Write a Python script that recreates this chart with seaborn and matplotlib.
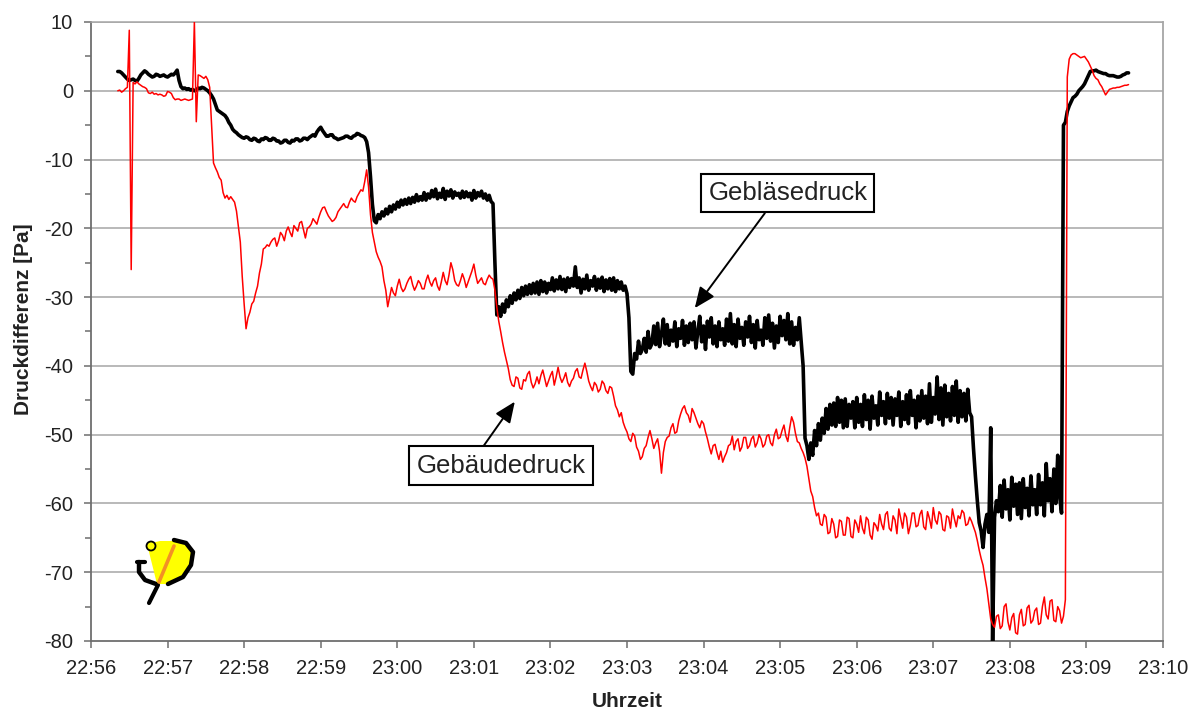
import numpy as np
import pandas as pd
import matplotlib
matplotlib.use("Agg")
import matplotlib.pyplot as plt
import seaborn as sns
from matplotlib.patches import Polygon, Circle
from matplotlib.ticker import MultipleLocator

# ---------------- data ----------------
# time in minutes after 22:56, sampled every 0.025 min starting at 0.35
t_start = 0.35
t_step = 0.025

tick_labels = ["22:56", "22:57", "22:58", "22:59", "23:00", "23:01", "23:02",
               "23:03", "23:04", "23:05", "23:06", "23:07", "23:08", "23:09", "23:10"]

# Gebläsedruck [Pa] (one row = half a minute)
geblaese = [
    2.8, 2.8, 2.6, 2.3, 2.0, 1.7, 1.5, 1.6, 1.7, 1.5, 1.4, 1.8, 2.3, 2.6, 2.9, 2.7, 2.4, 2.2, 2.0, 2.1,
    2.4, 2.3, 2.1, 2.2, 2.3, 2.1, 2.0, 2.2, 2.4, 2.3, 2.6, 3.0, 1.5, 0.6, 0.3, 0.4, 0.2, 0.3, 0.1, 0.2,
    0.0, 0.1, 0.4, 0.3, 0.5, 0.4, 0.2, 0.0, -0.3, -0.7, -1.2, -2.0, -2.8, -3.0, -3.2, -3.4, -3.6, -4.0, -4.6, -5.0,
    -5.6, -5.9, -6.1, -6.4, -6.6, -6.8, -6.9, -6.7, -6.8, -7.1, -7.2, -6.9, -7.0, -7.3, -7.4, -7.0, -7.1, -6.8, -6.9, -7.2,
    -7.2, -6.9, -7.0, -7.3, -7.3, -7.6, -7.5, -7.2, -7.2, -7.5, -7.6, -7.2, -7.3, -7.0, -7.0, -7.3, -7.2, -6.9, -6.9, -7.1,
    -6.8, -6.6, -6.4, -6.6, -6.0, -5.6, -5.3, -5.8, -6.2, -6.6, -6.6, -6.4, -6.4, -6.8, -6.9, -7.1, -7.0, -6.9, -6.8, -6.6,
    -6.6, -6.8, -6.9, -6.6, -6.5, -6.2, -6.3, -6.5, -6.6, -6.8, -7.4, -9.0, -12.5, -16.5, -18.9, -19.2, -18.0, -18.6, -17.6, -18.2,
    -17.2, -17.9, -16.8, -17.6, -16.6, -17.2, -16.2, -16.9, -15.9, -16.6, -15.8, -16.5, -15.6, -16.4, -15.5, -16.2, -15.1, -16.0, -15.4, -15.9,
    -14.8, -15.9, -15.0, -15.6, -14.5, -15.4, -14.3, -15.7, -14.9, -15.5, -14.2, -15.8, -14.6, -15.3, -14.4, -15.6, -14.7, -15.2, -14.9, -15.6,
    -14.6, -15.5, -14.7, -15.4, -14.9, -15.9, -14.5, -15.6, -14.8, -15.3, -14.6, -15.6, -15.0, -15.9, -15.2, -16.1, -16.4, -25.0, -32.6, -31.4,
    -32.8, -31.0, -32.2, -30.4, -31.4, -29.8, -30.9, -29.4, -30.4, -29.0, -30.2, -28.6, -29.8, -28.4, -29.6, -28.2, -29.5, -28.0, -29.4, -27.8,
    -29.6, -27.6, -29.2, -27.8, -29.4, -28.0, -28.9, -27.2, -29.1, -27.5, -28.8, -27.0, -28.9, -27.4, -29.2, -27.2, -28.6, -27.3, -28.4, -25.6,
    -28.6, -27.2, -29.4, -27.4, -28.8, -26.8, -29.0, -27.6, -28.4, -27.0, -29.0, -27.4, -28.7, -27.1, -29.2, -27.5, -28.8, -27.3, -29.0, -27.2,
    -29.2, -27.6, -28.8, -27.8, -29.0, -28.4, -29.5, -33.0, -40.8, -41.2, -38.2, -39.0, -36.4, -38.2, -37.6, -36.0, -38.0, -35.0, -37.4, -36.8,
    -34.2, -36.9, -33.8, -37.2, -35.4, -33.2, -36.8, -34.0, -37.0, -34.8, -36.4, -33.6, -37.2, -34.6, -36.0, -33.4, -37.0, -34.2, -36.6, -33.8,
    -36.2, -33.6, -37.4, -35.0, -32.8, -36.5, -34.2, -37.6, -33.5, -35.8, -33.0, -36.8, -34.2, -37.2, -33.6, -36.2, -34.6, -37.0, -33.2, -36.4,
    -32.4, -36.8, -34.0, -37.2, -33.2, -36.0, -34.4, -37.0, -33.6, -35.8, -32.8, -36.6, -34.0, -37.4, -33.4, -36.2, -34.8, -37.0, -33.0, -36.0,
    -32.6, -36.4, -33.8, -37.4, -34.2, -36.6, -32.8, -35.6, -33.4, -36.2, -32.4, -36.8, -33.6, -37.0, -34.4, -36.2, -33.0, -36.6, -40.0, -50.5,
    -51.6, -53.6, -51.2, -53.0, -49.4, -51.6, -48.4, -50.8, -47.6, -49.8, -46.2, -49.2, -45.6, -48.6, -45.4, -48.8, -44.6, -48.2, -45.0, -49.0,
    -44.8, -48.8, -45.6, -47.6, -45.2, -49.0, -44.6, -48.2, -45.6, -48.8, -44.2, -47.8, -45.0, -49.2, -44.4, -47.6, -45.8, -48.6, -43.8, -47.2,
    -45.2, -48.4, -44.0, -47.6, -44.6, -48.6, -44.8, -47.2, -43.8, -48.8, -45.2, -47.8, -44.2, -48.4, -43.6, -47.2, -45.0, -49.0, -44.4, -48.0,
    -43.6, -47.6, -44.4, -48.4, -42.6, -48.2, -44.6, -47.0, -41.6, -47.8, -43.2, -48.6, -42.8, -47.4, -44.0, -48.0, -43.0, -47.2, -42.2, -48.2,
    -43.6, -47.4, -44.0, -48.0, -43.4, -46.8, -47.4, -52.0, -56.0, -59.6, -62.8, -64.0, -66.4, -63.0, -61.6, -64.2, -49.0, -80.0, -62.0, -59.6,
    -61.2, -57.4, -62.0, -56.6, -60.8, -58.0, -62.4, -56.2, -60.4, -57.2, -61.6, -57.0, -62.2, -56.4, -60.6, -57.8, -61.8, -56.0, -60.2, -58.0,
    -61.6, -55.8, -60.2, -57.0, -61.8, -54.2, -59.6, -56.4, -61.2, -55.0, -60.0, -53.0, -59.0, -61.4, -5.0, -4.6, -3.0, -2.2, -1.6, -1.0,
    -0.8, -0.5, 0.0, 0.3, 0.6, 1.0, 1.6, 2.2, 2.8, 2.9, 2.9, 3.0, 2.8, 2.7, 2.6, 2.5, 2.5, 2.3, 2.2, 2.2,
    2.2, 2.1, 2.0, 2.0, 2.1, 2.3, 2.4, 2.6, 2.6,
]

# Gebäudedruck [Pa]
gebaeude = [
    0.0, 0.1, -0.2, 0.0, 0.3, 0.5, 8.8, -26.0, 1.2, 1.0, 1.3, 1.0, 0.8, 0.6, 0.5, 0.3, -0.3, -0.4, -0.2, -0.5,
    -0.4, -0.6, -0.5, -0.6, -0.8, -0.7, -0.1, -0.2, -0.4, -1.0, -1.3, -1.2, -1.2, -1.4, -1.3, -1.2, -1.3, -1.4, -1.3, -1.2,
    10.0, -4.5, 2.3, 2.2, 2.0, 1.8, 2.1, 1.6, 0.5, -5.0, -10.5, -11.2, -11.8, -12.6, -13.0, -14.8, -15.6, -15.2, -15.8, -15.4,
    -15.8, -16.2, -17.5, -19.8, -22.0, -27.0, -31.0, -34.6, -33.0, -32.2, -31.0, -30.6, -29.4, -28.4, -26.5, -25.2, -23.0, -22.8, -22.4, -22.6,
    -22.0, -21.6, -21.4, -22.6, -21.8, -20.6, -21.0, -21.8, -20.4, -19.8, -20.6, -21.2, -19.6, -20.0, -20.4, -19.2, -19.0, -20.2, -21.4, -20.0,
    -19.8, -19.4, -18.6, -19.0, -19.4, -18.4, -17.6, -17.0, -16.9, -17.6, -18.2, -18.6, -19.0, -18.8, -18.4, -17.6, -17.2, -16.8, -16.4, -16.9,
    -17.0, -16.2, -15.6, -16.0, -16.2, -15.4, -14.9, -14.4, -14.6, -13.2, -11.5, -14.0, -18.0, -20.6, -22.0, -23.4, -24.2, -24.8, -25.6, -27.6,
    -29.0, -31.4, -30.0, -28.6, -29.4, -29.8, -28.4, -27.4, -28.6, -29.2, -28.8, -28.0, -27.4, -27.0, -28.2, -29.0, -28.4, -27.6, -28.0, -28.8,
    -28.8, -27.6, -26.8, -27.8, -28.4, -27.6, -27.2, -28.4, -29.0, -27.8, -26.4, -27.6, -28.2, -26.8, -25.0, -26.0, -27.6, -28.2, -28.4, -27.6,
    -26.6, -27.4, -28.6, -27.8, -27.0, -26.2, -25.2, -26.8, -28.0, -27.6, -27.2, -28.0, -28.2, -27.4, -26.8, -27.2, -27.4, -29.0, -31.5, -33.5,
    -35.0, -36.6, -38.0, -39.2, -40.4, -42.0, -42.8, -43.0, -41.6, -41.8, -43.2, -43.4, -42.0, -42.2, -41.2, -40.8, -42.4, -43.2, -42.6, -41.6,
    -42.6, -41.4, -40.6, -41.8, -43.0, -42.2, -41.4, -40.8, -42.8, -41.6, -40.2, -41.6, -42.4, -41.8, -41.0, -42.4, -43.0, -42.2, -41.8, -40.8,
    -40.4, -41.6, -41.8, -40.6, -39.6, -40.8, -42.2, -43.0, -43.6, -42.4, -42.8, -43.8, -43.4, -42.2, -42.6, -43.6, -44.0, -43.0, -43.2, -44.4,
    -45.8, -46.4, -47.4, -46.8, -48.2, -49.0, -49.6, -50.6, -51.0, -49.8, -50.2, -51.8, -52.4, -53.6, -53.2, -52.0, -51.6, -50.4, -49.4, -50.6,
    -52.0, -51.2, -50.6, -52.4, -55.6, -52.6, -51.0, -50.4, -50.2, -49.0, -48.4, -49.8, -49.6, -48.0, -47.0, -46.2, -45.8, -46.8, -47.2, -48.2,
    -46.2, -46.8, -47.6, -48.4, -49.0, -48.0, -48.4, -49.6, -50.6, -51.8, -52.8, -51.6, -51.4, -52.6, -53.6, -52.4, -54.0, -53.2, -52.6, -51.6,
    -51.4, -50.2, -52.2, -51.0, -50.6, -52.4, -51.8, -50.4, -50.4, -52.0, -51.6, -50.6, -50.2, -51.8, -51.2, -50.0, -50.6, -51.8, -51.4, -50.2,
    -50.0, -51.2, -51.6, -50.0, -49.2, -50.6, -50.4, -49.4, -48.6, -50.2, -51.0, -49.0, -47.4, -48.2, -49.8, -51.0, -51.2, -52.0, -52.6, -53.4,
    -54.6, -56.4, -58.2, -59.0, -60.6, -61.8, -61.4, -63.0, -63.2, -61.6, -62.0, -64.4, -64.2, -62.2, -63.0, -65.0, -64.8, -62.4, -62.6, -64.6,
    -64.6, -62.0, -62.2, -64.8, -65.0, -62.4, -63.0, -64.2, -61.8, -63.6, -64.4, -62.0, -62.4, -64.6, -65.2, -62.8, -63.2, -64.0, -61.6, -63.0,
    -63.8, -61.6, -61.2, -63.6, -64.0, -61.8, -62.4, -64.4, -60.8, -62.2, -63.6, -61.4, -62.0, -64.4, -63.2, -61.4, -61.4, -63.4, -63.2, -61.6,
    -61.0, -63.4, -63.8, -61.2, -62.2, -63.6, -60.6, -62.4, -63.0, -61.2, -61.6, -63.8, -64.0, -61.8, -62.0, -63.6, -60.8, -62.2, -63.4, -61.8,
    -62.2, -61.0, -61.4, -63.2, -63.0, -62.0, -62.6, -63.4, -64.2, -65.4, -66.8, -68.0, -69.0, -70.8, -72.4, -74.6, -76.8, -77.6, -78.0, -76.4,
    -76.2, -78.2, -77.8, -75.0, -74.6, -77.2, -78.4, -76.6, -76.0, -78.8, -79.0, -76.2, -75.4, -77.8, -77.6, -75.2, -74.8, -77.4, -77.0, -75.6,
    -75.2, -77.6, -77.4, -75.0, -73.6, -76.2, -76.8, -74.2, -74.0, -77.0, -77.2, -75.0, -75.6, -77.4, -76.4, -74.0, 2.0, 4.6, 5.2, 5.4,
    5.4, 5.2, 5.0, 4.8, 4.9, 5.0, 4.6, 4.2, 3.6, 3.0, 2.2, 1.8, 1.6, 1.0, 0.6, 0.0, -0.6, -0.2, 0.2, 0.3,
    0.4, 0.4, 0.5, 0.5, 0.6, 0.7, 0.8, 0.8, 0.9,
]

df_b = pd.DataFrame({"t": t_start + t_step * np.arange(len(geblaese)), "p": geblaese})
df_r = pd.DataFrame({"t": t_start + t_step * np.arange(len(gebaeude)), "p": gebaeude})

# ---------------- style ----------------
sns.set_theme(style="white")
plt.rcParams["font.family"] = ["Liberation Sans", "DejaVu Sans"]
plt.rcParams["axes.unicode_minus"] = False

W, H = 1197, 713
fig = plt.figure(figsize=(W / 100, H / 100), dpi=100)
ax = fig.add_axes([91 / W, 1 - 641 / H, (1163 - 91) / W, (641 - 22) / H])

grid_c = "#a6a6a6"
for v in range(-70, 11, 10):
    ax.axhline(v, color=grid_c, lw=1.1, zorder=0)

sns.lineplot(data=df_b, x="t", y="p", ax=ax, color="black", lw=2.6,
             estimator=None, sort=False, zorder=3)
sns.lineplot(data=df_r, x="t", y="p", ax=ax, color="#ff0000", lw=1.1,
             estimator=None, sort=False, zorder=4)

ax.set_xlim(0, 14)
ax.set_ylim(-80, 10)
ax.set_xticks(range(len(tick_labels)))
ax.set_xticklabels(tick_labels)
ax.yaxis.set_major_locator(MultipleLocator(10))
ax.yaxis.set_minor_locator(MultipleLocator(5))

spine_c = "#6e6e6e"
ax.spines["left"].set_color(spine_c)
ax.spines["bottom"].set_color(spine_c)
ax.spines["left"].set_linewidth(1.3)
ax.spines["bottom"].set_linewidth(1.3)
ax.spines["right"].set_color(grid_c)
ax.spines["top"].set_color(grid_c)
ax.spines["right"].set_linewidth(1.3)
ax.spines["top"].set_linewidth(1.1)

ax.tick_params(axis="both", which="major", direction="out", length=5, width=1.1,
               color=spine_c, labelsize=14.5, labelcolor="#222222")
ax.tick_params(axis="y", which="major", pad=8, left=True)
ax.tick_params(axis="y", which="minor", direction="out", length=4, width=1.1,
               color=spine_c, left=True)
ax.tick_params(axis="x", which="major", pad=8, bottom=True)

ax.set_xlabel("Uhrzeit", fontsize=15, fontweight="bold", color="#222222", labelpad=10)
ax.set_ylabel("Druckdifferenz [Pa]", fontsize=15, fontweight="bold", color="#222222")
ax.yaxis.set_label_coords(-0.054, 0.52)

# ---------------- annotations ----------------
box = dict(boxstyle="square,pad=0.28", fc="white", ec="black", lw=1.5)
arrow = dict(arrowstyle="-|>,head_length=0.7,head_width=0.3", color="black", lw=1.4,
             shrinkA=0, shrinkB=0, mutation_scale=18)

ax.annotate("", xy=(7.885, -31.6), xytext=(8.80, -17.8), arrowprops=arrow, zorder=6)
ax.text(9.10, -14.85, "Gebläsedruck", fontsize=18.5, color="#222222",
        ha="center", va="center", bbox=box, zorder=7)

ax.annotate("", xy=(5.535, -45.2), xytext=(5.117, -51.8), arrowprops=arrow, zorder=6)
ax.text(5.353, -54.5, "Gebäudedruck", fontsize=18.5, color="#222222",
        ha="center", va="center", bbox=box, zorder=7)

# ---------------- logo (pixel overlay) ----------------
ov = fig.add_axes([0, 0, 1, 1], zorder=10)
ov.set_xlim(0, W)
ov.set_ylim(H, 0)
ov.axis("off")
ov.patch.set_alpha(0)

ov.add_patch(Polygon([(147, 544), (160, 541), (174, 541), (186, 545), (192, 553),
                      (190, 566), (181, 578), (166, 584), (157, 584)],
                     closed=True, fc="#ffff00", ec="none"))
ov.plot([174, 186, 193, 191, 183, 168], [540, 543, 552, 565, 577, 584],
        color="black", lw=3.2, solid_capstyle="round")
ov.plot([137, 145], [562, 562], color="black", lw=3, solid_capstyle="round")
ov.plot([139, 139, 145, 156], [562, 572, 580, 584], color="black", lw=3.2,
        solid_capstyle="round")
ov.plot([158, 149], [585, 603], color="black", lw=3, solid_capstyle="round")
ov.plot([159, 174], [582, 546], color="#f39025", lw=2.6)
ov.add_patch(Circle((151, 546), 4.5, fc="#ffff00", ec="black", lw=1.3))

fig.savefig("out.png", dpi=100)
